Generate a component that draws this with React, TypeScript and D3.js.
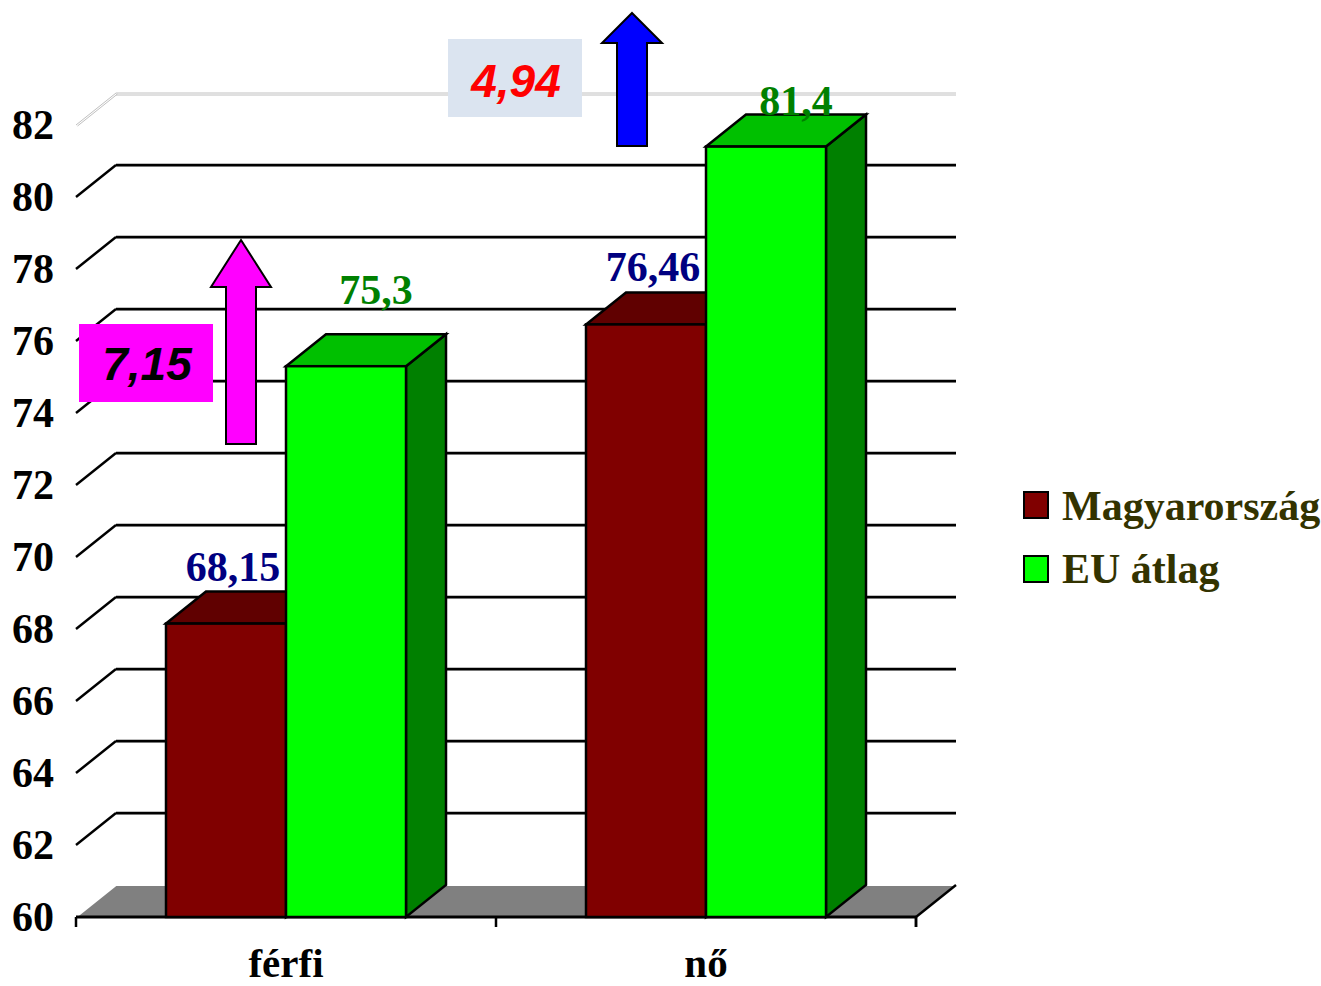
import React from "react";
import * as d3 from "d3";

const categories = ["férfi", "nő"];
const seriesNames = ["Magyarország", "EU átlag"];
const hungaryValues = [68.15, 76.46];
const euValues = [75.3, 81.4];
const valueLabels = [["68,15", "76,46"], ["75,3", "81,4"]];
const yTicks = [60, 62, 64, 66, 68, 70, 72, 74, 76, 78, 80, 82];
const frontColors = ["#800000", "#00ff00"];
const topColors = ["#600000", "#00c000"];
const sideColors = ["#500000", "#008000"];
const labelColors = ["#000080", "#008000"];
const gapAnnotations = [
  { text: "7,15", box: "#ff00ff", textColor: "#000000", arrow: "#ff00ff" },
  { text: "4,94", box: "#dbe4f0", textColor: "#ff0000", arrow: "#0000ff" },
];

const W = 1321;
const H = 986;
const DX = 40;
const DY = 32;
const serif = "'Liberation Serif', 'Times New Roman', serif";
const sans = "'Liberation Sans', Arial, sans-serif";

export default function App() {
  const y = d3.scaleLinear().domain([60, 82]).range([917, 125]);
  const x0 = d3.scaleBand<string>().domain(categories).range([76, 916]).padding(0);
  const x1 = d3
    .scaleBand<string>()
    .domain(seriesNames)
    .range([(x0.bandwidth() - 240) / 2, (x0.bandwidth() + 240) / 2]);
  const left = 76;
  const right = 916;
  const base = y(60);
  const seriesValues = [hungaryValues, euValues];

  const poly = (pts: number[][]) => pts.map((p) => p.join(",")).join(" ");

  const arrowPath = (cx: number, tipY: number, headY: number, bottomY: number, headHalf: number, shaftHalf: number) =>
    `M${cx},${tipY} L${cx + headHalf},${headY} L${cx + shaftHalf},${headY} L${cx + shaftHalf},${bottomY} L${cx - shaftHalf},${bottomY} L${cx - shaftHalf},${headY} L${cx - headHalf},${headY} Z`;

  return (
    <svg width={W} height={H} style={{ display: "block", position: "absolute", left: 0, top: 0 }}>
      <rect width={W} height={H} fill="#ffffff" />
      {/* floor */}
      <polygon
        points={poly([
          [left, base],
          [right, base],
          [right + DX, base - DY],
          [left + DX, base - DY],
        ])}
        fill="#808080"
      />
      <line x1={left} y1={base} x2={left + DX} y2={base - DY} stroke="#ffffff" strokeWidth={2} />
      <line x1={left + DX} y1={base - DY} x2={right + DX} y2={base - DY} stroke="#ffffff" strokeWidth={2} />
      <line x1={right} y1={base} x2={right + DX} y2={base - DY} stroke="#000000" strokeWidth={2.5} />
      {/* gridlines */}
      {yTicks
        .filter((t) => t > 60)
        .map((t) => {
          const yy = y(t);
          const top = t === 82;
          if (top) {
            return (
              <g key={t}>
                <line x1={left} y1={yy} x2={left + DX} y2={yy - DY} stroke="#c0c0c0" strokeWidth={1} />
                <line x1={left + 1.5} y1={yy + 1} x2={left + DX + 1.5} y2={yy - DY + 1} stroke="#c0c0c0" strokeWidth={1} />
                <line x1={left + DX} y1={yy - DY} x2={right + DX} y2={yy - DY} stroke="#c0c0c0" strokeWidth={1} />
                <line x1={left + DX} y1={yy - DY + 2} x2={right + DX} y2={yy - DY + 2} stroke="#c0c0c0" strokeWidth={1} />
              </g>
            );
          }
          return (
            <g key={t}>
              <line x1={left} y1={yy} x2={left + DX} y2={yy - DY} stroke="#000000" strokeWidth={2.5} />
              <line x1={left + DX} y1={yy - DY + 1} x2={right + DX} y2={yy - DY + 1} stroke="#a0a0a0" strokeWidth={2} />
              <line x1={left + DX} y1={yy - DY} x2={right + DX} y2={yy - DY} stroke="#000000" strokeWidth={2.5} />
            </g>
          );
        })}
      {/* axis */}
      <line x1={left} y1={base} x2={right} y2={base} stroke="#000000" strokeWidth={3} />
      {[left, ...categories.map((c) => (x0(c) as number) + x0.bandwidth()), right].map((tx, i) => (
        <line key={i} x1={tx} y1={base} x2={tx} y2={base + 10} stroke="#000000" strokeWidth={2.5} />
      ))}
      {/* y tick labels */}
      {yTicks.map((t) => (
        <text
          key={t}
          x={54}
          y={y(t) + 14}
          textAnchor="end"
          fontFamily={serif}
          fontWeight="bold"
          fontSize={42}
          fill="#000000"
        >
          {t}
        </text>
      ))}
      {/* bars */}
      {categories.map((c, ci) =>
        seriesNames.map((s, si) => {
          const v = seriesValues[si][ci];
          const bx = (x0(c) as number) + (x1(s) as number);
          const bw = x1.bandwidth();
          const yt = y(v);
          return (
            <g key={c + s} stroke="#000000" strokeWidth={2.5} strokeLinejoin="miter">
              <polygon
                points={poly([
                  [bx + bw, yt],
                  [bx + bw + DX, yt - DY],
                  [bx + bw + DX, base - DY],
                  [bx + bw, base],
                ])}
                fill={sideColors[si]}
              />
              <polygon
                points={poly([
                  [bx, yt],
                  [bx + bw, yt],
                  [bx + bw + DX, yt - DY],
                  [bx + DX, yt - DY],
                ])}
                fill={topColors[si]}
              />
              <rect x={bx} y={yt} width={bw} height={base - yt} fill={frontColors[si]} />
            </g>
          );
        })
      )}
      {/* value labels */}
      {categories.map((c, ci) =>
        seriesNames.map((s, si) => {
          const v = seriesValues[si][ci];
          const bx = (x0(c) as number) + (x1(s) as number);
          const bw = x1.bandwidth();
          const backTop = y(v) - DY;
          const ly = si === 0 ? backTop - 11 : Math.max(backTop - 30, 115);
          const lx = bx + bw / 2 + (si === 0 ? 7 : 30);
          return (
            <text
              key={"l" + c + s}
              x={lx}
              y={ly}
              textAnchor="middle"
              fontFamily={serif}
              fontWeight="bold"
              fontSize={42}
              fill={labelColors[si]}
            >
              {valueLabels[si][ci]}
            </text>
          );
        })
      )}
      {/* category labels */}
      {categories.map((c) => (
        <text
          key={c}
          x={(x0(c) as number) + x0.bandwidth() / 2}
          y={977}
          textAnchor="middle"
          fontFamily={serif}
          fontWeight="bold"
          fontSize={41}
          fill="#000000"
        >
          {c}
        </text>
      ))}
      {/* annotations */}
      <g>
        <path d={arrowPath(241, 240, 287, 444, 30, 15)} fill={gapAnnotations[0].arrow} stroke="#000000" strokeWidth={2} />
        <rect x={79} y={324} width={134} height={78} fill={gapAnnotations[0].box} />
        <text x={147} y={380} textAnchor="middle" fontFamily={sans} fontWeight="bold" fontStyle="italic" fontSize={46} fill={gapAnnotations[0].textColor}>
          {gapAnnotations[0].text}
        </text>
        <rect x={448} y={39} width={134} height={78} fill={gapAnnotations[1].box} />
        <text x={516} y={97} textAnchor="middle" fontFamily={sans} fontWeight="bold" fontStyle="italic" fontSize={46} fill={gapAnnotations[1].textColor}>
          {gapAnnotations[1].text}
        </text>
        <path d={arrowPath(632, 13, 43, 146, 30, 15)} fill={gapAnnotations[1].arrow} stroke="#000000" strokeWidth={2} />
      </g>
      {/* legend */}
      {seriesNames.map((s, si) => (
        <g key={"lg" + s}>
          <rect x={1024} y={492 + si * 64} width={24} height={26} fill={frontColors[si]} stroke="#000000" strokeWidth={2} />
          <text x={1062} y={520 + si * 63} fontFamily={serif} fontWeight="bold" fontSize={42} fill="#333300">
            {s}
          </text>
        </g>
      ))}
    </svg>
  );
}
